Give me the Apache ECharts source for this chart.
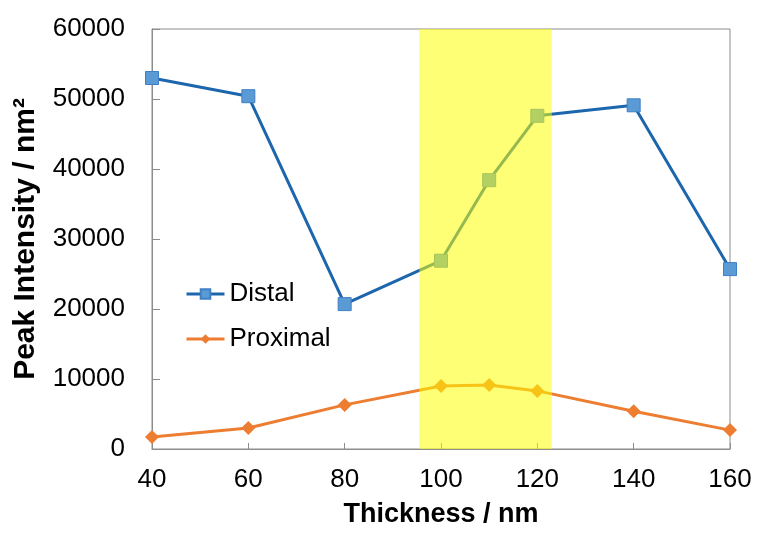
<!DOCTYPE html>
<html>
<head>
<meta charset="utf-8">
<script src="https://cdn.jsdelivr.net/npm/echarts@6/dist/echarts.min.js"></script>
<style>
  html, body { margin: 0; padding: 0; background: #ffffff; }
  #chart { width: 758px; height: 533px; }
</style>
</head>
<body>
<div id="chart"></div>
<script>
// Film thickness (nm) at which peak intensity was measured
const thickness = [40, 60, 80, 100, 110, 120, 140, 160];
// Peak intensity per unit area (nm^2)
const distal   = [53000, 50400, 20700, 26900, 38400, 47600, 49100, 25700];
const proximal = [1700, 3000, 6300, 9000, 9150, 8300, 5400, 2700];
// Highlighted thickness window
const highlightRange = [95.5, 123];

const pairs = (xs, ys) => xs.map((x, i) => [x, ys[i]]);
const axisGray = '#8c8c8c';
const fontFamily = '"Liberation Sans", Arial, sans-serif';

const chart = echarts.init(document.getElementById('chart'), null, { renderer: 'canvas' });
chart.setOption({
  animation: false,
  backgroundColor: '#ffffff',
  grid: {
    left: 152, right: 28, top: 29, bottom: 84,
    show: true, borderColor: axisGray, borderWidth: 1, backgroundColor: 'transparent'
  },
  legend: {
    data: ['Distal', 'Proximal'],
    orient: 'vertical',
    left: 180, top: 276,
    itemWidth: 38, itemHeight: 12, itemGap: 19,
    lineStyle: { width: 3 },
    textStyle: { fontFamily, fontSize: 26, color: '#000' }
  },
  xAxis: {
    type: 'value', min: 40, max: 160, interval: 20,
    name: 'Thickness / nm', nameLocation: 'middle', nameGap: 52,
    nameTextStyle: { fontFamily, fontSize: 27, fontWeight: 'bold', color: '#000' },
    axisLine: { lineStyle: { color: axisGray, width: 1 } },
    axisTick: { inside: true, length: 6, lineStyle: { color: axisGray } },
    axisLabel: { fontFamily, fontSize: 26, color: '#000', margin: 18 },
    splitLine: { show: false }
  },
  yAxis: {
    type: 'value', min: 0, max: 60000, interval: 10000,
    name: 'Peak Intensity / nm²', nameLocation: 'middle', nameGap: 111,
    nameTextStyle: { fontFamily, fontSize: 30, fontWeight: 'bold', color: '#000' },
    axisLine: { show: true, lineStyle: { color: axisGray, width: 1 } },
    axisTick: { show: true, inside: true, length: 8, lineStyle: { color: axisGray } },
    axisLabel: { fontFamily, fontSize: 26, color: '#000', margin: 27,
                 formatter: v => String(v) },
    splitLine: { show: false }
  },
  series: [
    {
      name: 'Distal', type: 'line', data: pairs(thickness, distal),
      symbol: 'rect', symbolSize: 13,
      lineStyle: { color: '#1c66ad', width: 3 },
      itemStyle: { color: '#5b9bd5', borderColor: '#3f7fc4', borderWidth: 1 },
      z: 3
    },
    {
      name: 'Proximal', type: 'line', data: pairs(thickness, proximal),
      symbol: 'diamond', symbolSize: 14,
      lineStyle: { color: '#ed7d31', width: 3 },
      itemStyle: { color: '#ed7d31' },
      z: 3
    },
    {
      // translucent band laid over the curves
      name: 'highlight', type: 'line', data: [],
      markArea: {
        silent: true, z: 20, zlevel: 1,
        itemStyle: { color: 'rgba(255,255,0,0.54)' },
        data: [[{ xAxis: highlightRange[0] }, { xAxis: highlightRange[1] }]]
      }
    }
  ]
});
</script>
</body>
</html>
